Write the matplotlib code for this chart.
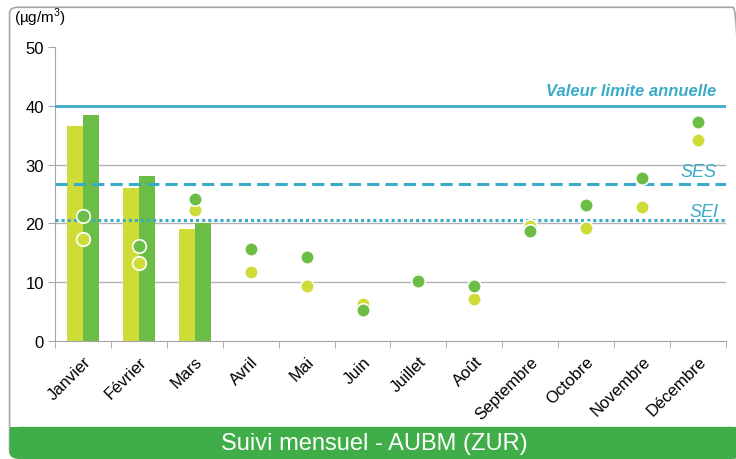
import matplotlib.pyplot as plt
from matplotlib.patches import FancyBboxPatch, Rectangle
import numpy as np

plt.rcParams['font.family'] = ['Liberation Sans', 'DejaVu Sans']
plt.rcParams['mathtext.fontset'] = 'custom'
plt.rcParams['mathtext.rm'] = 'Liberation Sans'

# ---------- données ----------
mois = ["Janvier", "Février", "Mars", "Avril", "Mai", "Juin", "Juillet",
        "Août", "Septembre", "Octobre", "Novembre", "Décembre"]

barres_jaune = [36.5, 26.0, 19.0]
barres_vert = [38.5, 28.0, 20.0]

points_vert = [21.2, 16.2, 24.2, 15.7, 14.3, 5.2, 10.2, 9.3, 18.7, 23.1, 27.8, 37.2]
points_jaune = [17.3, 13.2, 22.3, 11.8, 9.3, 6.3, 10.5, 7.2, 19.6, 19.3, 22.8, 34.2]

valeur_limite = 40
ses = 26.7
sei = 20.5

c_jaune = "#cfdc37"
c_vert = "#6cbd45"
c_bleu = "#3aabc8"
c_bandeau = "#3fae49"

# ---------- figure ----------
fig = plt.figure(figsize=(7.36, 4.6), dpi=100)

# cadre gris + bandeau vert
cadre = FancyBboxPatch((0.013, 0.005), 0.995, 0.977, boxstyle="round,pad=0,rounding_size=0.012",
                       transform=fig.transFigure, facecolor="none", edgecolor="#a6a6a6",
                       linewidth=1.2, zorder=0)
fig.patches.append(cadre)
bandeau = FancyBboxPatch((0.013, 0.0), 0.995, 0.07, boxstyle="round,pad=0,rounding_size=0.014",
                         transform=fig.transFigure, facecolor=c_bandeau, edgecolor="none", zorder=1)
fig.patches.append(bandeau)
fig.patches.append(Rectangle((0.013, 0.035), 0.995, 0.035, transform=fig.transFigure,
                             facecolor=c_bandeau, edgecolor="none", zorder=1))
fig.text(0.508, 0.034, "Suivi mensuel - AUBM (ZUR)", color="white", fontsize=17,
         ha="center", va="center", zorder=2)

ax = fig.add_axes([0.0747, 0.2565, 0.9117, 0.6392])
ax.set_zorder(2)
ax.patch.set_alpha(0)
x = np.arange(len(mois))
w = 0.285

ax.bar(x[:3] - w / 2, barres_jaune, width=w, color=c_jaune, zorder=2)
ax.bar(x[:3] + w / 2, barres_vert, width=w, color=c_vert, zorder=2)

ax.scatter(x, points_jaune, s=95, color=c_jaune, edgecolor="white", linewidth=1.2, zorder=4)
ax.scatter(x, points_vert, s=95, color=c_vert, edgecolor="white", linewidth=1.2, zorder=5)

# seuils
ax.axhline(valeur_limite, color=c_bleu, linewidth=2.0, zorder=3)
ax.axhline(ses, color=c_bleu, linewidth=2.2, linestyle=(0, (4, 2)), zorder=3)
ax.axhline(sei, color=c_bleu, linewidth=2.2, linestyle=(0, (1, 1)), zorder=3)
ax.text(11.32, 41.9, "Valeur limite annuelle", color=c_bleu, fontsize=12,
        fontweight="bold", style="italic", ha="right", va="baseline")
ax.text(11.33, 28.0, "SES", color=c_bleu, fontsize=13, style="italic",
        ha="right", va="baseline")
ax.text(11.36, 21.3, "SEI", color=c_bleu, fontsize=13, style="italic",
        ha="right", va="baseline")

# axes
ax.set_xlim(-0.5, 11.5)
ax.set_ylim(0, 50)
ax.set_yticks([0, 10, 20, 30, 40, 50])
for yv in [10, 20, 30]:
    ax.axhline(yv, color="#b3b3b3", linewidth=1.0, zorder=1)
ax.tick_params(axis="y", labelsize=12, length=5, color="#a6a6a6", pad=3)
ax.set_xticks(x)
ax.set_xticklabels(mois, rotation=45, ha="right", rotation_mode="anchor", fontsize=12)
ax.set_xticks(np.arange(-0.5, 12, 1), minor=True)
ax.tick_params(axis="x", which="major", length=0, pad=9)
ax.tick_params(axis="x", which="minor", length=5, color="#a6a6a6")
for s in ["top", "right"]:
    ax.spines[s].set_visible(False)
for s in ["left", "bottom"]:
    ax.spines[s].set_color("#a6a6a6")

fig.text(0.019, 0.962, "(µg/m$^{3}$)", fontsize=11, ha="left", va="center")

fig.savefig("out.png", dpi=100)
